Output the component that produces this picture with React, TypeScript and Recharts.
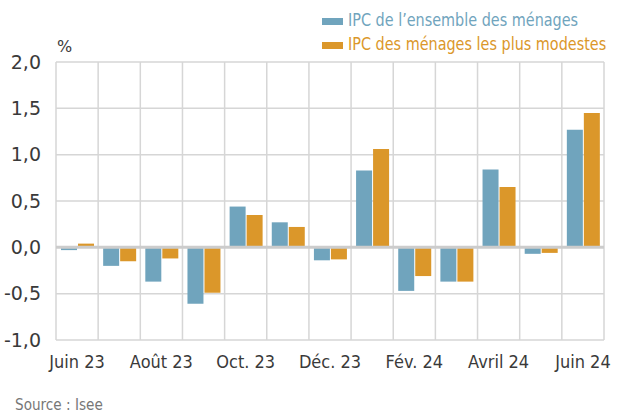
import { Bar, BarChart, CartesianGrid, ReferenceLine, XAxis, YAxis } from 'recharts';

const months = [
  'Juin 23', 'Juil. 23', 'Août 23', 'Sept. 23', 'Oct. 23', 'Nov. 23', 'Déc. 23',
  'Janv. 24', 'Fév. 24', 'Mars 24', 'Avril 24', 'Mai 24', 'Juin 24',
];
const ensemble = [-0.03, -0.2, -0.37, -0.61, 0.44, 0.27, -0.14, 0.83, -0.47, -0.37, 0.84, -0.07, 1.27];
const modestes = [0.04, -0.15, -0.12, -0.49, 0.35, 0.22, -0.13, 1.06, -0.31, -0.37, 0.65, -0.06, 1.45];
const yTicks = [-1, -0.5, 0, 0.5, 1, 1.5, 2];

const BLUE = '#70a4bd';
const ORANGE = '#db972a';
const GRID = '#d6d6d6';
const TEXT = '#3a3a3a';
const FONT = "'DejaVu Sans', sans-serif";

const data = months.map((m, i) => ({ month: m, ensemble: ensemble[i], modestes: modestes[i] }));

// narrow the labels a bit, the source uses a condensed face
function MonthTick({ x, y, payload }: any) {
  return (
    <text
      transform={`translate(${x},${y}) scale(0.9,1)`}
      dy={18}
      textAnchor="middle"
      fontSize={18}
      fontFamily={FONT}
      fill={TEXT}
    >
      {payload.value}
    </text>
  );
}

export default function App() {
  return (
    <div style={{ position: 'absolute', left: 0, top: 0, width: 618, height: 417, background: '#fff', fontFamily: FONT }}>
      <BarChart
        width={618}
        height={417}
        data={data}
        margin={{ top: 62, right: 14, left: 0, bottom: 45 }}
        barGap={1}
        barSize={16}
      >
        <CartesianGrid
          stroke={GRID}
          strokeWidth={1.5}
          verticalCoordinatesGenerator={({ offset }: any) =>
            months.map((_, i) => offset.left + (i * offset.width) / months.length).concat(offset.left + offset.width)
          }
        />
        <XAxis
          dataKey="month"
          interval={1}
          axisLine={false}
          tickLine={false}
          height={32}
          tick={<MonthTick />}
          tickMargin={4}
        />
        <YAxis
          width={56}
          domain={[-1, 2]}
          ticks={yTicks}
          axisLine={false}
          tickLine={false}
          tickMargin={9}
          tickFormatter={(v: number) => v.toFixed(1).replace('.', ',')}
          tick={{ fontSize: 19, fill: TEXT, fontFamily: FONT }}
        />
        <ReferenceLine y={0} stroke="#cccccc" strokeWidth={3} />
        <Bar dataKey="ensemble" fill={BLUE} isAnimationActive={false} />
        <Bar dataKey="modestes" fill={ORANGE} isAnimationActive={false} />
      </BarChart>

      <div style={{ position: 'absolute', left: 57, top: 37, fontSize: 16, color: TEXT }}>%</div>

      <div style={{ position: 'absolute', left: 322, top: 9, display: 'flex', alignItems: 'center', whiteSpace: 'nowrap' }}>
        <span style={{ width: 21, height: 7, background: BLUE, marginRight: 5, marginTop: 4 }} />
        <span style={{ fontSize: 18, color: BLUE, display: 'inline-block', transform: 'scaleX(0.8)', transformOrigin: 'left center' }}>
          IPC de l’ensemble des ménages
        </span>
      </div>
      <div style={{ position: 'absolute', left: 322, top: 33, display: 'flex', alignItems: 'center', whiteSpace: 'nowrap' }}>
        <span style={{ width: 21, height: 7, background: ORANGE, marginRight: 5, marginTop: 4 }} />
        <span style={{ fontSize: 18, color: ORANGE, display: 'inline-block', transform: 'scaleX(0.8)', transformOrigin: 'left center' }}>
          IPC des ménages les plus modestes
        </span>
      </div>

      <div
        style={{
          position: 'absolute', left: 15, top: 395, fontSize: 16, color: '#777',
          transform: 'scaleX(0.85)', transformOrigin: 'left center', whiteSpace: 'nowrap',
        }}
      >
        Source : Isee
      </div>
    </div>
  );
}
